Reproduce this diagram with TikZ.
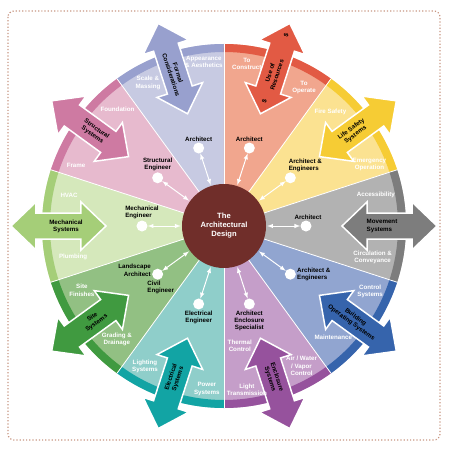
\documentclass[tikz,border=0pt]{standalone}
\usepackage{fontspec}
\setmainfont{Liberation Sans}
\usetikzlibrary{positioning}

\definecolor{lavLight}{RGB}{199,202,226}
\definecolor{lavRim}{RGB}{152,160,206}
\definecolor{salLight}{RGB}{241,166,142}
\definecolor{salRim}{RGB}{226,90,68}
\definecolor{yelLight}{RGB}{251,226,145}
\definecolor{yelRim}{RGB}{246,204,52}
\definecolor{gryLight}{RGB}{178,178,178}
\definecolor{gryRim}{RGB}{125,125,125}
\definecolor{bluLight}{RGB}{145,165,208}
\definecolor{bluRim}{RGB}{54,100,172}
\definecolor{purLight}{RGB}{197,158,201}
\definecolor{purRim}{RGB}{150,82,157}
\definecolor{tealLight}{RGB}{143,206,202}
\definecolor{tealRim}{RGB}{18,164,164}
\definecolor{siteLight}{RGB}{146,192,131}
\definecolor{siteRim}{RGB}{64,154,64}
\definecolor{mechLight}{RGB}{213,232,187}
\definecolor{mechRim}{RGB}{165,206,120}
\definecolor{strLight}{RGB}{231,186,206}
\definecolor{strRim}{RGB}{206,122,162}
\definecolor{coreBrown}{RGB}{112,46,42}
\definecolor{frameBrown}{RGB}{200,150,130}

\begin{document}
\begin{tikzpicture}[x=1pt,y=1pt]
\tikzstyle{dot}=[circle, fill=white, minimum size=11pt, inner sep=0pt]
\tikzstyle{link}=[white, line width=1pt, latex-latex, shorten <=1pt]
\tikzstyle{who}=[font=\fontsize{6.2}{7.2}\selectfont\bfseries, align=center, inner sep=1pt]
\tikzstyle{part}=[text=white, font=\fontsize{6.2}{7.2}\selectfont\bfseries, align=center, inner sep=0pt]
\tikzstyle{sys}=[font=\fontsize{6.2}{7.2}\selectfont\bfseries, align=center, inner sep=0pt]

\useasboundingbox (-224,-224) rectangle (226,226);
\draw[frameBrown, dotted, line width=1.2pt, rounded corners=6pt] (-216,215) rectangle (216,-214);

% the ten sectors with their rims
\foreach \a/\lt/\dk in {108/lavLight/lavRim, 72/salLight/salRim, 36/yelLight/yelRim, 0/gryLight/gryRim, -36/bluLight/bluRim, -72/purLight/purRim, -108/tealLight/tealRim, -144/siteLight/siteRim, 180/mechLight/mechRim, 144/strLight/strRim} {
\fill[\lt] (0,0) -- (\a-18:182) arc (\a-18:\a+18:182) -- cycle;
\draw[\dk, line width=8pt] (\a-18:178) arc (\a-18:\a+18:178);
}
\foreach \a in {18,54,...,342} {
\draw[white, line width=0.8pt] (0,0) -- (\a:182);
}

% double arrows across the rim
\foreach \a/\dk in {108/lavRim, 72/salRim, 36/yelRim, 0/gryRim, -36/bluRim, -72/purRim, -108/tealRim, -144/siteRim, 180/mechRim, 144/strRim} {
\begin{scope}[rotate=\a]
\filldraw[fill=\dk, draw=white, line width=1.5pt] (118,0) -- (143,24) -- (143,13) -- (188,13) -- (188,24) -- (213,0) -- (188,-24) -- (188,-13) -- (143,-13) -- (143,-24) -- cycle;
\end{scope}
}

\node[sys, rotate=-72] (s1) at (108:160) {Formal\\Considerations};
\node[sys, rotate=72] (s2) at (72:160) {Use of\\Resources};
\node[sys, rotate=72] (usd1) at (72:201) {\$};
\node[sys, rotate=72] (usd2) at (72:131) {\$};
\node[sys, rotate=36] (s3) at (36:160) {Life Safety\\Systems};
\node[sys, align=left] (s4) at (0:158) {Movement\\Systems};
\node[sys, rotate=-36] (s5) at (-36:160) {Building\\Operating Systems};
\node[sys, rotate=-72] (s6) at (-72:160) {Enclosure\\Systems};
\node[sys, rotate=72] (s7) at (-108:160) {Electrical\\Systems};
\node[sys, rotate=36] (s8) at (-144:160) {Site\\Systems};
\node[sys] (s9) at (180:158) {Mechanical\\Systems};
\node[sys, rotate=-36] (s10) at (144:160) {Structural\\Systems};

% white labels inside the rim
\node[part] (p1) at (97:165) {Appearance\\\& Aesthetics};
\node[part] (p2) at (118:162) {Scale \&\\Massing};
\node[part] (p3) at (82:164) {To\\Construct};
\node[part] (p4) at (60:160) {To\\Operate};
\node[part] (p5) at (47:156) {Fire Safety};
\node[part] (p6) at (23:158) {Emergency\\Operation};
\node[part] (p7) at (11.5:155) {Accessibility};
\node[part] (p8) at (-12:152) {Circulation \&\\Conveyance};
\node[part] (p9) at (-24:160) {Control\\Systems};
\node[part] (p10) at (-45.5:156) {Maintenance};
\node[part] (p11) at (-61:160) {Air / Water\\/ Vapor\\Control};
\node[part] (p12) at (-82.5:121) {Thermal\\Control};
\node[part] (p13) at (-82:165) {Light\\Transmission};
\node[part] (p14) at (-96:164) {Power\\Systems};
\node[part] (p15) at (-119.4:161) {Lighting\\Systems};
\node[part] (p16) at (-133.4:156) {Grading \&\\Drainage};
\node[part] (p17) at (-155.7:156) {Site\\Finishes};
\node[part] (p18) at (-168.4:154) {Plumbing};
\node[part] (p19) at (168.7:158) {HVAC};
\node[part] (p20) at (157.6:160) {Frame};
\node[part] (p21) at (132.4:158) {Foundation};

% the core and the people round it
\node[circle, fill=coreBrown, minimum size=84pt, text=white, align=center, font=\fontsize{7.6}{9}\selectfont\bfseries] (core) at (0,0) {The\\Architectural\\Design};

\foreach \a [count=\i] in {108,72,36,0,-36,-72,-108,-144,180,144} {
\node[dot] (d\i) at (\a:82) {};
\draw[link] (core) -- (d\i);
}

\node[who, above=0pt of d1] (w1) {Architect};
\node[who, above=0pt of d2] (w2) {Architect};
\node[who, above=-1pt of d3, xshift=15pt, align=left] (w3) {Architect \&\\Engineers};
\node[who, above=0pt of d4, xshift=2pt] (w4) {Architect};
\node[who, right=0pt of d5, align=left] (w5) {Architect \&\\Engineers};
\node[who, below=0pt of d6] (w6) {Architect\\Enclosure\\Specialist};
\node[who, below=0pt of d7] (w7) {Electrical\\Engineer};
\node[who, left=0pt of d8, yshift=4pt, align=right] (w8) {Landscape\\Architect};
\node[who, below=0pt of d8, xshift=3pt, align=left] (w9) {Civil\\Engineer};
\node[who, above=0pt of d9, align=left] (w10) {Mechanical\\Engineer};
\node[who, above=0pt of d10] (w11) {Structural\\Engineer};

\end{tikzpicture}
\end{document}
